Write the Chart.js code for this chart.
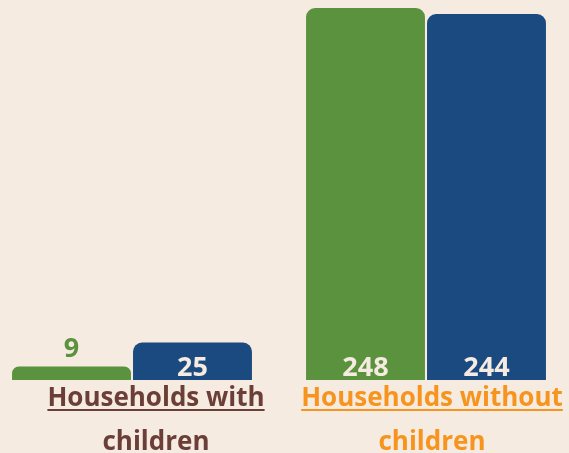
<!DOCTYPE html>
<html>
<head>
<meta charset="utf-8">
<script src="https://cdn.jsdelivr.net/npm/chart.js@4"></script>
<style>
  html, body { margin: 0; padding: 0; background: #F5EBE1; overflow: hidden; }
  #wrap { position: absolute; left: -15px; top: 0; width: 588px; height: 453px; }
</style>
</head>
<body>
<div id="wrap"><canvas id="myChart"></canvas></div>
<script>
const categories = [['Households with', 'children'], ['Households without', 'children']]
const serieVerte = [9, 248]
const serieBleue = [25, 244]
const couleursCategories = ['#6B3F37', '#F7941D']
const decalageLabels = [24, 6] // les libellés ne sont pas centrés pile sur le groupe

const policeValeurs = 'bold 27px "Open Sans", sans-serif'
const policeCategories = 'bold 26px "Open Sans", sans-serif'

// valeurs dans les barres + libellés soulignés sous l'axe
const etiquettes = {
    id: 'etiquettes',
    afterDatasetsDraw(chart) {
        const ctx = chart.ctx
        ctx.save()
        ctx.textAlign = 'center'
        ctx.textBaseline = 'alphabetic'
        ctx.font = policeValeurs
        chart.data.datasets.forEach((ds, i) => {
            chart.getDatasetMeta(i).data.forEach((bar, j) => {
                const v = ds.data[j]
                const haut = bar.base - bar.y
                if (haut < 30) {
                    ctx.fillStyle = ds.backgroundColor
                    ctx.fillText(v, bar.x, bar.y - 10)
                } else {
                    ctx.fillStyle = '#F5EBE1'
                    ctx.fillText(v, bar.x, bar.base - 4)
                }
            })
        })
        const x = chart.scales.x
        ctx.font = policeCategories
        categories.forEach((lignes, i) => {
            const cx = x.getPixelForTick(i) + decalageLabels[i]
            ctx.fillStyle = couleursCategories[i]
            ctx.strokeStyle = couleursCategories[i]
            ctx.lineWidth = 2
            lignes.forEach((txt, k) => {
                const y = chart.chartArea.bottom + 26 + k * 44
                ctx.fillText(txt, cx, y)
                if (k === 0) {
                    const w = ctx.measureText(txt).width
                    ctx.beginPath()
                    ctx.moveTo(cx - w / 2, y + 4)
                    ctx.lineTo(cx + w / 2, y + 4)
                    ctx.stroke()
                }
            })
        })
        ctx.restore()
    }
}

const data = {
    labels: categories,
    datasets: [{
        label: 'Série 1',
        data: serieVerte,
        backgroundColor: '#5B923D',
        borderRadius: { topLeft: 9, topRight: 9 },
        borderSkipped: 'bottom',
        categoryPercentage: 0.823,
        barPercentage: 0.983
    }, {
        label: 'Série 2',
        data: serieBleue,
        backgroundColor: '#1A4A80',
        borderRadius: { topLeft: 9, topRight: 9 },
        borderSkipped: 'bottom',
        categoryPercentage: 0.823,
        barPercentage: 0.983
    }]
}

const config = {
    type: 'bar',
    data: data,
    plugins: [etiquettes],
    options: {
        responsive: true,
        maintainAspectRatio: false,
        animation: false,
        layout: { padding: { top: 8, bottom: 73, left: 0, right: 0 } },
        plugins: { legend: { display: false }, tooltip: { enabled: false } },
        scales: {
            x: { display: false, grid: { display: false } },
            y: { display: false, min: 0, max: 248, grid: { display: false } }
        }
    }
}

new Chart(document.getElementById('myChart'), config)
</script>
</body>
</html>
